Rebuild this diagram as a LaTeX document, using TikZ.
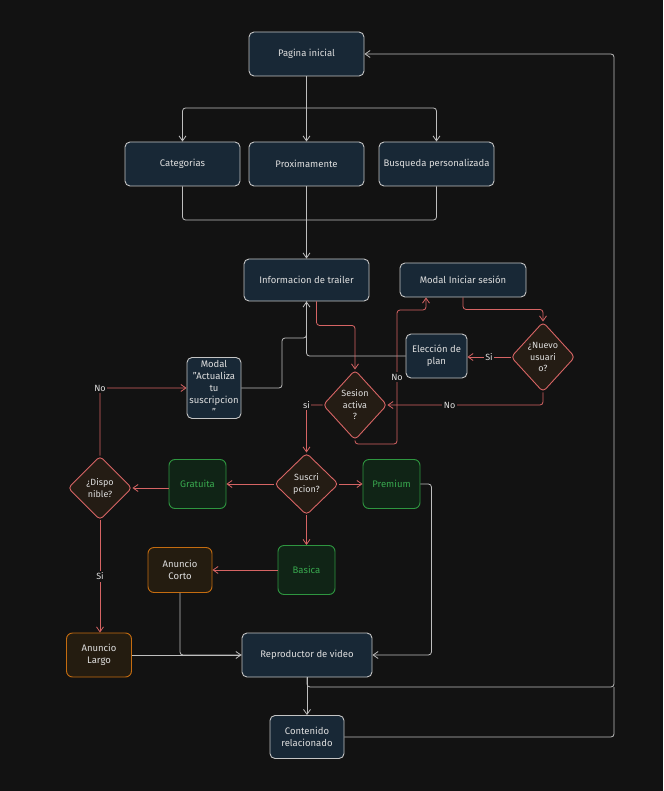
\documentclass[tikz,border=0pt]{standalone}
\usepackage{fontspec}
\setmainfont{Fira Sans}
\usetikzlibrary{arrows.meta,shapes.geometric,calc}
\definecolor{bg}{RGB}{18,18,18}
\definecolor{bfill}{RGB}{24,40,54}
\definecolor{bline}{RGB}{196,196,196}
\definecolor{txt}{RGB}{222,222,222}
\definecolor{redl}{RGB}{214,100,100}
\definecolor{dfill}{RGB}{36,28,20}
\definecolor{grnline}{RGB}{46,150,64}
\definecolor{gfill}{RGB}{16,36,22}
\definecolor{gtxt}{RGB}{56,168,78}
\definecolor{ostroke}{RGB}{196,108,16}
\definecolor{ofill}{RGB}{36,28,16}
\definecolor{wline}{RGB}{190,190,190}
\begin{document}
\begin{tikzpicture}[x=1pt,y=-1pt,
  base/.style={font=\fontsize{9.5}{12}\selectfont, align=center, inner sep=1pt, line width=0.9pt},
  bluebox/.style={base, draw=bline, fill=bfill, text=txt, rounded corners=5pt},
  grnbox/.style={base, draw=grnline, fill=gfill, text=gtxt, rounded corners=6pt},
  orgbox/.style={base, draw=ostroke, fill=ofill, text=txt, rounded corners=6pt},
  dia/.style={base, font=\fontsize{9}{11.5}\selectfont, diamond, draw=redl, fill=dfill, text=txt, rounded corners=4pt, inner sep=0pt},
  gl/.style={draw=wline, line width=0.8pt, rounded corners=3pt},
  garr/.style={gl, -{Straight Barb[length=5pt,width=7pt]}},
  rl/.style={draw=redl, line width=0.8pt, rounded corners=3pt},
  rarr/.style={rl, -{Straight Barb[length=5pt,width=7pt]}},
  lbl/.style={fill=bg, text=txt, font=\fontsize{9}{10}\selectfont, inner sep=1.5pt, rounded corners=0pt}
]
\fill[bg] (0,0) rectangle (663,791);
\useasboundingbox (0,0) rectangle (663,791);

% nodes
\node[bluebox, minimum width=115pt, minimum height=44pt] (pag) at (306.5,54) {Pagina inicial};
\node[bluebox, minimum width=115pt, minimum height=44pt] (cat) at (182.5,164) {Categorias};
\node[bluebox, minimum width=115pt, minimum height=44pt] (prox) at (306.5,164) {Proximamente};
\node[bluebox, minimum width=115pt, minimum height=44pt] (bus) at (436.5,164) {Busqueda personalizada};
\node[bluebox, minimum width=125pt, minimum height=42pt] (info) at (306.5,280) {Informacion de trailer};
\node[bluebox, minimum width=126pt, minimum height=34pt] (mis) at (463,280) {Modal Iniciar sesión};
\node[dia, minimum width=64pt, minimum height=70pt] (nue) at (543,357) {¿Nuevo\\usuari\\o?};
\node[bluebox, minimum width=61pt, minimum height=44pt] (ele) at (436.5,356) {Elección de\\plan};
\node[dia, minimum width=64pt, minimum height=70pt] (ses) at (355,405) {Sesion\\activa\\?};
\node[bluebox, minimum width=54pt, minimum height=61pt] (mact) at (214,388) {Modal\\"Actualiza\\tu\\suscripcion\\"};
\node[dia, minimum width=64pt, minimum height=64pt] (dis) at (100,488) {¿Dispo\\nible?};
\node[grnbox, minimum width=57pt, minimum height=49pt] (gra) at (197.5,484) {Gratuita};
\node[dia, minimum width=64pt, minimum height=62pt] (sus) at (306.5,484) {Suscri\\pcion?};
\node[grnbox, minimum width=57pt, minimum height=49pt] (pre) at (391.5,484) {Premium};
\node[grnbox, minimum width=57pt, minimum height=49pt] (bas) at (306.5,570) {Basica};
\node[orgbox, minimum width=64pt, minimum height=45pt] (acor) at (180,570) {Anuncio\\Corto};
\node[orgbox, minimum width=65pt, minimum height=44pt] (alar) at (99,655) {Anuncio\\Largo};
\node[bluebox, minimum width=130pt, minimum height=44pt] (rep) at (307,655) {Reproductor de video};
\node[bluebox, minimum width=74pt, minimum height=43pt] (con) at (307,737) {Contenido\\relacionado};

% helper coordinates
\coordinate (split) at (306.5,108);
\coordinate (merge) at (306.5,220);
\coordinate (rr) at (614,687);
\coordinate (loopA) at (397,444);
\coordinate (loopB) at (397,310);
\coordinate (mactc) at (282,338);

% grey connectors
\draw[garr] (pag.south) -- (prox.north);
\draw[garr] (split) -| (cat.north);
\draw[garr] (split) -| (bus.north);
\draw[gl] (cat.south) |- (merge) -| (bus.south);
\draw[garr] (prox.south) -- (info.north);
\draw[garr] (ele.west) -| (info.south);
\draw[gl] (mact.east) -| (mactc) -| (info.south);
\draw[gl] (acor.south) |- (rep.west);
\draw[garr] (alar.east) -- (rep.west);
\draw[garr] (pre.east) -- ++(11,0) |- (rep.east);
\draw[garr] (rep.south) -- (con.north);
\draw[garr] (rep.south) |- (rr) |- (pag.east);
\draw[gl] (con.east) -| (rr);

% red connectors
\draw[rarr] ([xshift=10pt]info.south) -- ++(0,24) -| (ses.north);
\draw[rarr] (ses.south) |- (loopA) -- node[lbl]{No} (loopB) -| ([xshift=-37pt]mis.south);
\draw[rarr] (mis.south) -- ++(0,12) -| (nue.north);
\draw[rarr] (nue.west) -- node[lbl]{Si} (ele.east |- nue.west);
\draw[rarr] (nue.south) |- node[lbl,pos=0.8]{No} (ses.east);
\draw[rarr] (ses.west) -| node[lbl,pos=0.5]{si} (sus.north);
\draw[rarr] (sus.west) -- (gra.east);
\draw[rarr] (sus.east) -- (pre.west);
\draw[rarr] (sus.south) -- (bas.north);
\draw[rarr] (gra.west |- dis.east) -- (dis.east);
\draw[rarr] (dis.north) |- node[lbl,pos=0.5]{No} (mact.west);
\draw[rarr] (dis.south) -- node[lbl]{Si} (dis.south |- alar.north);
\draw[rarr] (bas.west) -- (acor.east);
\end{tikzpicture}
\end{document}
